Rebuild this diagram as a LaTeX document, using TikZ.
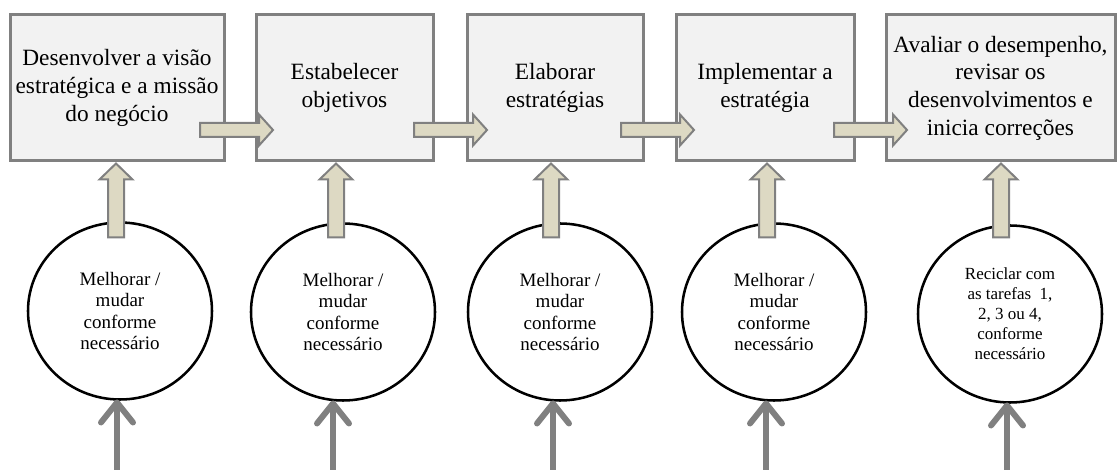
\documentclass[tikz,border=0pt]{standalone}
\usepackage{fontspec}
\setmainfont{Liberation Serif}
\usetikzlibrary{shapes.geometric,arrows.meta,calc}
\definecolor{boxfill}{HTML}{F2F2F2}
\definecolor{boxline}{HTML}{808080}
\definecolor{beige}{HTML}{DDD9C3}
\begin{document}
\begin{tikzpicture}[x=0.75pt,y=-0.75pt,
  stepbox/.style={draw=boxline, line width=2.25pt, fill=boxfill, align=center,
    font=\fontsize{17.5}{20.8}\selectfont, minimum height=146*0.75pt, inner sep=0pt, outer sep=0pt},
  ring/.style={ellipse, draw=black, line width=1.9pt, fill=white,
    minimum width=184*0.75pt, minimum height=177*0.75pt, align=center,
    font=\fontsize{14.25}{16.1}\selectfont, inner sep=0pt, outer sep=0pt},
  hblock/.style={draw=boxline, line width=1.5pt, fill=beige},
  vblock/.style={draw=boxline, line width=1.5pt, fill=beige},
  feed/.style={draw=boxline, line width=4.5pt, -{Straight Barb[length=15pt,width=24pt,line cap=round,line join=round]}}
]
\useasboundingbox (0,0) rectangle (1118,470);

% step boxes
\node[stepbox, minimum width=214*0.75pt] (b1) at (117,88) {Desenvolver a visão\\estratégica e a missão\\do negócio};
\node[stepbox, minimum width=177*0.75pt] (b2) at (344.5,88) {Estabelecer\\objetivos};
\node[stepbox, minimum width=176*0.75pt] (b3) at (555,88) {Elaborar\\estratégias};
\node[stepbox, minimum width=178*0.75pt] (b4) at (765,88) {Implementar a\\estratégia};
\node[stepbox, minimum width=229*0.75pt] (b5) at (1000.5,88) {Avaliar o desempenho,\\revisar os\\desenvolvimentos e\\inicia correções};

% horizontal block arrows
\coordinate (t12) at ($(b1.east)+(-24,42)$);
\coordinate (t23) at ($(b2.east)+(-19,42)$);
\coordinate (t34) at ($(b3.east)+(-22,42)$);
\coordinate (t45) at ($(b4.east)+(-20,42)$);
\foreach \t in {t12,t23,t34,t45}{
  \draw[hblock, shift={(\t)}] (0,-7) -- (59,-7) -- (59,-15.5) -- (73,0) -- (59,15.5) -- (59,7) -- (0,7) -- cycle;
}

% circles
\node[ring] (c1) at (120,311) {Melhorar /\\mudar\\conforme\\necessário};
\node[ring] (c2) at (343,312) {Melhorar /\\mudar\\conforme\\necessário};
\node[ring] (c3) at (560,312) {Melhorar /\\mudar\\conforme\\necessário};
\node[ring] (c4) at (774,312) {Melhorar /\\mudar\\conforme\\necessário};
\node[ring, font=\fontsize{12.75}{15}\selectfont] (c5) at (1010,314) {Reciclar com\\as tarefas~~1,\\2, 3 ou 4,\\conforme\\necessário};

% vertical block arrows (circle -> box)
\coordinate (u1) at ($(b1.south)+(-1,2.5)$);
\coordinate (u2) at ($(b2.south)+(-8.5,2.5)$);
\coordinate (u3) at ($(b3.south)+(-4,2.5)$);
\coordinate (u4) at ($(b4.south)+(2,2.5)$);
\coordinate (u5) at ($(b5.south)+(0.5,2.5)$);
\foreach \u in {u1,u2,u3,u4,u5}{
  \draw[vblock, shift={(\u)}] (0,0) -- (16.5,16) -- (8,16) -- (8,74) -- (-8,74) -- (-8,16) -- (-16.5,16) -- cycle;
}

% feed arrows from below
\coordinate (f1) at (117,475);
\coordinate (f2) at (333,475);
\coordinate (f3) at (553,475);
\coordinate (f4) at (766,475);
\coordinate (f5) at (1007,475);
\draw[feed] (f1) -- (f1 |- c1.south);
\draw[feed] (f2) -- (f2 |- c2.south);
\draw[feed] (f3) -- (f3 |- c3.south);
\draw[feed] (f4) -- (f4 |- c4.south);
\draw[feed] (f5) -- (f5 |- c5.south);
\end{tikzpicture}
\end{document}
